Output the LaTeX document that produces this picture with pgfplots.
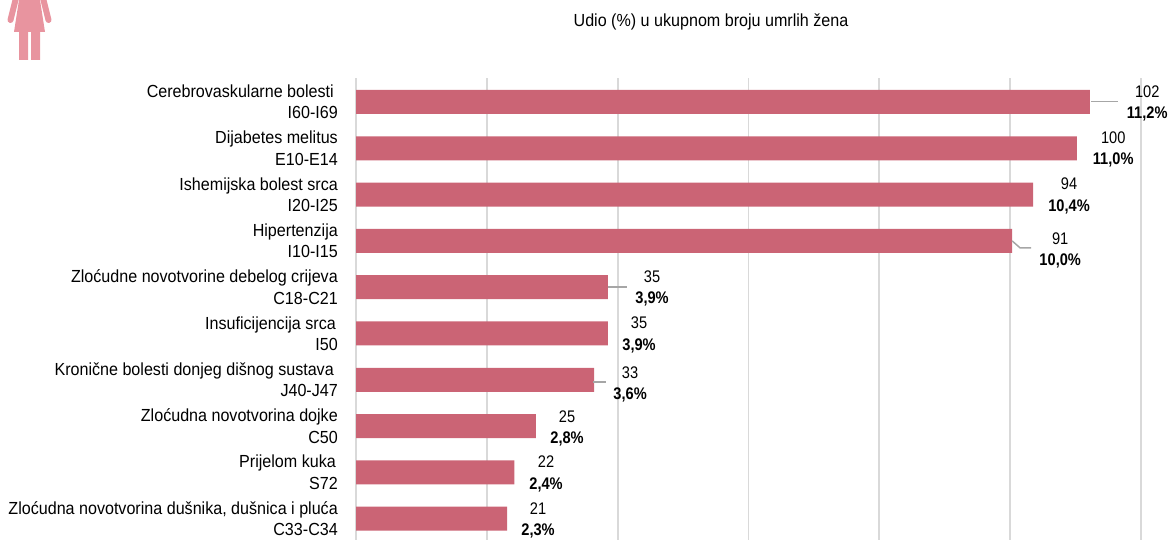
\documentclass[border=0pt]{standalone}
\usepackage{pgfplots}
\pgfplotsset{compat=1.18}
\usepackage{fontspec}
\setmainfont[FakeStretch=0.92]{Liberation Sans}
\newfontfamily\labfont[FakeStretch=0.87]{Liberation Sans}
\definecolor{barc}{HTML}{CB6475}
\definecolor{gridc}{HTML}{D9D9D9}
\definecolor{leadc}{HTML}{A6A6A6}
\definecolor{iconc}{HTML}{E8949F}
\pgfplotstableread{
x y
11.22 0
11.02 1
10.35 2
10.03 3
3.85 4
3.85 5
3.64 6
2.75 7
2.42 8
2.31 9
}\bars
\newcommand{\lb}[4]{\node[font=\labfont\fontsize{16.8}{21.5}\selectfont,align=center,inner sep=0pt,yshift=-1pt] at (axis cs:#1,#2) {#3\\\textbf{#4}};}
\begin{document}
\begin{tikzpicture}[x=1pt,y=1pt]
\path[use as bounding box] (0,0) rectangle (1174,540);
\begin{scope}
\clip (0,0) rectangle (1174,540);
\fill[iconc] (19,540) -- (40,540) -- (45,508) -- (40,508) -- (40,480) -- (31,480) -- (31,508) -- (28,508) -- (28,480) -- (19,480) -- (19,508) -- (14,508) -- cycle;
\draw[iconc,line width=6pt,line cap=round] (16,542) -- (10.5,520);
\draw[iconc,line width=6pt,line cap=round] (43,542) -- (48.5,520);
\end{scope}
\node[font=\fontsize{17.5}{18}\selectfont,anchor=center] at (711,518) {Udio (\%) u ukupnom broju umrlih žena};
\begin{axis}[
  at={(356pt,0pt)},anchor=south west,
  scale only axis,width=785pt,height=462pt,
  xmin=0,xmax=12,ymin=-0.518,ymax=9.46,y dir=reverse,
  axis line style={draw=none},
  xtick={0,2,...,12},xticklabels={},
  xmajorgrids,grid style={gridc,line width=1.7pt},
  major tick length=0pt,
  ytick={0,...,9},
  yticklabels={
    {Cerebrovaskularne bolesti\hspace*{4pt}\\I60-I69},
    {Dijabetes melitus\\E10-E14},
    {Ishemijska bolest srca\\I20-I25},
    {Hipertenzija\\I10-I15},
    {Zloćudne novotvorine debelog crijeva\\C18-C21},
    {Insuficijencija srca\hspace*{2pt}\\I50},
    {Kronične bolesti donjeg dišnog sustava\hspace*{4pt}\\J40-J47},
    {Zloćudna novotvorina dojke\\C50},
    {Prijelom kuka\hspace*{2pt}\\S72},
    {Zloćudna novotvorina dušnika, dušnica i pluća\\C33-C34}},
  yticklabel style={font=\fontsize{17.5}{21.5}\selectfont,align=right,inner sep=0pt,xshift=-18pt},
  clip=false,
]
\addplot[xbar,bar width=24pt,bar shift=0pt,fill=barc,draw=none] table[x=x,y=y] {\bars};
\addplot[leadc,line width=1.5pt] coordinates {(11.24,-0.01)(11.65,-0.01)};
\addplot[leadc,line width=1.5pt] coordinates {(10.03,3.0)(10.153,3.153)(10.32,3.153)};
\addplot[leadc,line width=1.5pt] coordinates {(3.85,3.996)(4.144,3.996)};
\addplot[leadc,line width=1.5pt] coordinates {(3.62,6.05)(3.82,6.05)};
\lb{12.095}{0.01}{102}{11,2\%}
\lb{11.575}{1.0}{100}{11,0\%}
\lb{10.90}{2.01}{94}{10,4\%}
\lb{10.765}{3.186}{91}{10,0\%}
\lb{4.526}{4.006}{35}{3,9\%}
\lb{4.327}{5.01}{35}{3,9\%}
\lb{4.19}{6.08}{33}{3,6\%}
\lb{3.226}{7.03}{25}{2,8\%}
\lb{2.905}{8.013}{22}{2,4\%}
\lb{2.783}{9.017}{21}{2,3\%}
\end{axis}
\end{tikzpicture}
\end{document}
